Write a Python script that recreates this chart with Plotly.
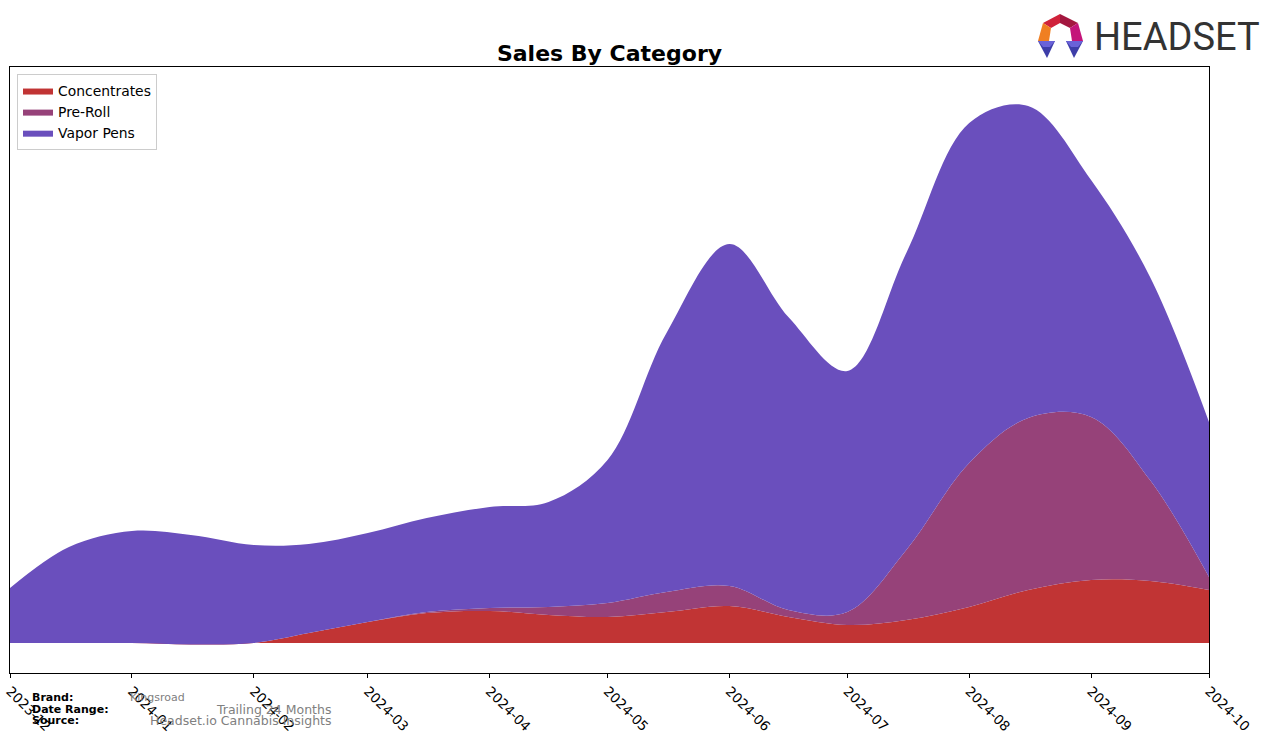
import plotly.graph_objects as go

# ---- data (arbitrary sales units) ----
dates = ["2023-12-01", "2023-12-16", "2024-01-01", "2024-01-16", "2024-02-01",
         "2024-02-15", "2024-03-01", "2024-03-16", "2024-04-01", "2024-04-16",
         "2024-05-01", "2024-05-16", "2024-06-01", "2024-06-16", "2024-07-01",
         "2024-07-16", "2024-08-01", "2024-08-16", "2024-09-01", "2024-09-16",
         "2024-10-01"]
concentrates = [0, 0, 0, -1.5, 0, 10, 21, 30, 32, 28, 26, 31, 37, 26, 18,
                23, 36, 53, 63, 62, 53]
pre_roll = [0, 0, 0, 0, 0, 0, 0, 1, 3, 8, 14, 20, 20, 7, 13,
            70, 144, 172, 163, 101, 13]
vapor_pens = [55, 96, 112, 109.5, 98, 89, 89, 94, 101, 105, 143, 259, 342, 293, 241,
              297, 340, 312, 237, 203, 155]
tick_dates = ["2023-12-01", "2024-01-01", "2024-02-01", "2024-03-01", "2024-04-01",
              "2024-05-01", "2024-06-01", "2024-07-01", "2024-08-01", "2024-09-01",
              "2024-10-01"]
tick_labels = ["2023-12", "2024-01", "2024-02", "2024-03", "2024-04", "2024-05",
               "2024-06", "2024-07", "2024-08", "2024-09", "2024-10"]

series = [("Concentrates", concentrates, "#C13434"),
          ("Pre-Roll", pre_roll, "#964279"),
          ("Vapor Pens", vapor_pens, "#6A4FBD")]

W, H = 1276, 743
L, R, T, B = 10, 1209, 67, 673  # plot area in pixels


def px(x):
    return (x - L) / (R - L)


def py(y):
    return (B - y) / (B - T)


fig = go.Figure()
for name, vals, col in series:
    fig.add_trace(go.Scatter(
        x=dates, y=vals, name=name, mode="lines",
        stackgroup="one", line=dict(width=0, shape="spline", smoothing=1.0, color=col),
        fillcolor=col, hoverinfo="skip"))

shapes = []


def poly(pts, color):
    d = "M " + " L ".join(f"{px(x):.5f},{py(y):.5f}" for x, y in pts) + " Z"
    return dict(type="path", path=d, xref="paper", yref="paper",
                fillcolor=color, line=dict(width=0), layer="above")


# Headset logo icon (decorative)
shapes += [
    poly([(1043, 23), (1060, 14), (1060, 23), (1051, 28)], "#D0223A"),
    poly([(1060, 14), (1078, 23), (1070, 28), (1060, 23)], "#A3173F"),
    poly([(1043, 23), (1051, 28), (1049, 41), (1038, 41)], "#F07F22"),
    poly([(1078, 23), (1083, 41), (1072, 41), (1070, 28)], "#C4147A"),
    poly([(1038, 41), (1055, 41), (1047, 58)], "#3D3DA8"),
    poly([(1066, 41), (1083, 41), (1074, 58)], "#3D3DA8"),
    poly([(1038, 41), (1055, 41), (1050, 47), (1043, 47)], "#6A62D8"),
    poly([(1066, 41), (1083, 41), (1078, 47), (1071, 47)], "#6A62D8"),
]

annotations = [
    dict(text="HEADSET", x=px(1092), y=py(37), xref="paper", yref="paper",
         xanchor="left", yanchor="middle", showarrow=False,
         font=dict(family="Roboto", size=38, color="#333333")),
    dict(text="<b>Brand:</b>", x=px(30), y=py(698), xref="paper", yref="paper",
         xanchor="left", yanchor="middle", showarrow=False,
         font=dict(family="DejaVu Sans", size=11, color="black")),
    dict(text="<b>Date Range:</b>", x=px(30), y=py(709), xref="paper", yref="paper",
         xanchor="left", yanchor="middle", showarrow=False,
         font=dict(family="DejaVu Sans", size=11, color="black")),
    dict(text="<b>Source:</b>", x=px(30), y=py(720), xref="paper", yref="paper",
         xanchor="left", yanchor="middle", showarrow=False,
         font=dict(family="DejaVu Sans", size=11, color="black")),
    dict(text="Kingsroad", x=px(128), y=py(698), xref="paper", yref="paper",
         xanchor="left", yanchor="middle", showarrow=False,
         font=dict(family="DejaVu Sans", size=11, color="#808080")),
    dict(text="Trailing 24 Months", x=px(214), y=py(709), xref="paper", yref="paper",
         xanchor="left", yanchor="middle", showarrow=False,
         font=dict(family="DejaVu Sans", size=12.5, color="#808080")),
    dict(text="Headset.io Cannabis Insights", x=px(148), y=py(720), xref="paper", yref="paper",
         xanchor="left", yanchor="middle", showarrow=False,
         font=dict(family="DejaVu Sans", size=12.5, color="#808080")),
]

fig.update_layout(
    width=W, height=H,
    margin=dict(l=L, r=W - R, t=T, b=H - B, pad=0, autoexpand=False),
    paper_bgcolor="white", plot_bgcolor="white",
    font=dict(family="DejaVu Sans", color="black"),
    title=dict(text="<b>Sales By Category</b>", x=0.5, xref="paper", y=1 - 53 / H,
               yref="container", xanchor="center", yanchor="middle",
               font=dict(family="DejaVu Sans", size=22, color="black")),
    showlegend=True,
    legend=dict(x=px(17), y=py(74), xanchor="left", yanchor="top",
                traceorder="normal", bgcolor="rgba(255,255,255,0.8)",
                bordercolor="#CCCCCC", borderwidth=1, tracegroupgap=0,
                font=dict(family="DejaVu Sans", size=13.9, color="black")),
    xaxis=dict(type="date", range=["2023-12-01", "2024-10-01"], automargin=False,
               tickvals=tick_dates, ticktext=tick_labels, tickangle=45,
               ticks="outside", ticklen=4, tickcolor="black",
               showline=True, linecolor="black", linewidth=1, mirror=True,
               showgrid=False, zeroline=False,
               tickfont=dict(family="DejaVu Sans", size=13.5, color="black")),
    yaxis=dict(range=[-30, 576], showticklabels=False, ticks="", automargin=False,
               showline=True, linecolor="black", linewidth=1, mirror=True,
               showgrid=False, zeroline=False),
    shapes=shapes,
    annotations=annotations,
)

fig.write_html("out.html")
